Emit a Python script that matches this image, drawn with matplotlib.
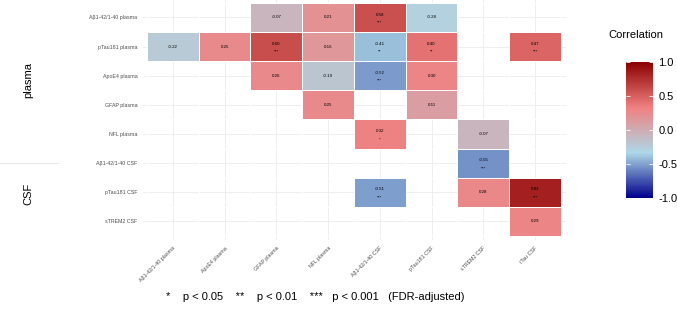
import numpy as np
import matplotlib
matplotlib.use("Agg")
import matplotlib.pyplot as plt
from matplotlib.colors import LinearSegmentedColormap
from matplotlib.lines import Line2D

plt.rcParams['font.family'] = ['Liberation Sans', 'DejaVu Sans']

row_labels = ["Aβ1-42/1-40 plasma", "pTau181 plasma", "ApoE4 plasma", "GFAP plasma",
              "NFL plasma", "Aβ1-42/1-40 CSF", "pTau181 CSF", "sTREM2 CSF"]
col_labels = ["Aβ1-42/1-40 plasma", "ApoE4 plasma", "GFAP plasma", "NFL plasma",
              "Aβ1-42/1-40 CSF", "pTau181 CSF", "sTREM2 CSF", "tTau CSF"]

N = None
corr = [
    [N, N, -0.07, 0.21, 0.58, -0.28, N, N],
    [-0.22, 0.25, 0.60, 0.16, -0.41, 0.40, N, 0.47],
    [N, N, 0.26, -0.19, -0.52, 0.30, N, N],
    [N, N, N, 0.25, N, 0.11, N, N],
    [N, N, N, N, 0.32, N, -0.07, N],
    [N, N, N, N, N, N, -0.55, N],
    [N, N, N, N, -0.51, N, 0.28, 0.83],
    [N, N, N, N, N, N, N, 0.29],
]
stars = [
    ["", "", "", "", "***", "", "", ""],
    ["", "", "***", "", "**", "**", "", "***"],
    ["", "", "", "", "***", "", "", ""],
    ["", "", "", "", "", "", "", ""],
    ["", "", "", "", "*", "", "", ""],
    ["", "", "", "", "", "", "***", ""],
    ["", "", "", "", "***", "", "", "***"],
    ["", "", "", "", "", "", "", ""],
]

cmap = LinearSegmentedColormap.from_list(
    "corr", ["darkblue", "lightblue", "lightcoral", "darkred"])

fig = plt.figure(figsize=(6.77, 3.13), dpi=100)
W, H = 677, 313
ax = fig.add_axes([143 / W, 1 - 240 / H, 423 / W, 240 / H])

mat = np.array([[np.nan if v is None else v for v in row] for row in corr])
masked = np.ma.masked_invalid(mat)
nr, nc = mat.shape

# grid first, tiles on top
for i in range(nc):
    ax.axvline(i, color="#ebebeb", lw=0.6, zorder=0)
for j in range(nr):
    ax.axhline(j, color="#ebebeb", lw=0.6, zorder=0)

mesh = ax.pcolormesh(np.arange(nc + 1) - 0.5, np.arange(nr + 1) - 0.5, masked,
                     cmap=cmap, vmin=-1, vmax=1, edgecolors="white",
                     linewidth=0.6, zorder=1)

for j in range(nr):
    for i in range(nc):
        v = corr[j][i]
        if v is None:
            continue
        s = stars[j][i]
        if s:
            ax.text(i, j - 0.1, f"{v:.2f}", ha="center", va="center", fontsize=3.2, zorder=3)
            ax.text(i, j + 0.18, s, ha="center", va="center", fontsize=3.2, zorder=3)
        else:
            ax.text(i, j, f"{v:.2f}", ha="center", va="center", fontsize=3.2, zorder=3)

ax.set_xlim(-0.577, 7.597)
ax.set_ylim(7.64, -0.6)
ax.set_xticks(range(nc))
ax.set_xticklabels(col_labels, rotation=45, ha="right", va="top",
                   rotation_mode="anchor", fontsize=3.8, color="#4d4d4d")
ax.set_yticks(range(nr))
ax.set_yticklabels(row_labels, fontsize=3.8, color="#4d4d4d")
ax.tick_params(length=0, pad=4)
for sp in ax.spines.values():
    sp.set_visible(False)

# facet labels on the left
fig.text(28 / W, 1 - 80 / H, "plasma", rotation=90, ha="center", va="center", fontsize=8)
fig.text(28 / W, 1 - 194 / H, "CSF", rotation=90, ha="center", va="center", fontsize=8)
fig.add_artist(Line2D([0, 58 / W], [1 - 163 / H, 1 - 163 / H], color="#e0e0e0", lw=0.6))

# colorbar
cax = fig.add_axes([626 / W, 1 - 198 / H, 27 / W, 136 / H])
cb = fig.colorbar(mesh, cax=cax, ticks=[-1, -0.5, 0, 0.5, 1])
cb.outline.set_visible(False)
cb.ax.set_yticklabels(["-1.0", "-0.5", "0.0", "0.5", "1.0"])
cax.tick_params(axis="y", which="both", direction="in", color="white", length=3,
                width=0.6, left=True, right=True, labelsize=8, pad=4)
fig.text(636 / W, 1 - 35 / H, "Correlation", ha="center", va="center", fontsize=8)

fig.text(315 / W, 1 - 297 / H,
         "*    p < 0.05    **    p < 0.01    ***   p < 0.001   (FDR-adjusted)",
         ha="center", va="center", fontsize=8)

fig.savefig("out.png", dpi=100)
